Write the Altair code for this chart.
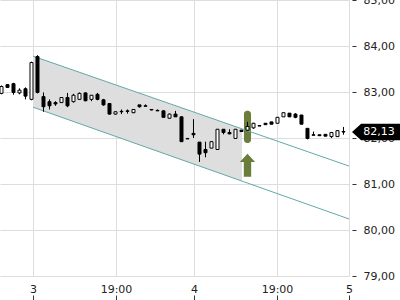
import altair as alt
import pandas as pd

# ---- candle data (hourly candles, index 0..57) ----
opens = [82.97, 83.16, 83.18, 82.98, 83.07, 82.84, 83.77, 82.90, 82.79, 82.77,
         82.77, 82.88, 82.79, 82.84, 82.98, 82.84, 82.95, 82.83, 82.75, 82.52,
         82.58, 82.59, 82.55, 82.72, 82.70, 82.62, 82.60, 82.59, 82.43, 82.52,
         82.46, 81.99, 82.10, 81.91, 81.75, 81.78, 81.75, 82.19, 82.12, 81.99,
         82.17, 82.17, 82.22, 82.27, 82.32, 82.35, 82.32, 82.46, 82.54, 82.52,
         82.50, 82.21, 82.07, 82.07, 82.08, 82.03, 82.03, 82.14]
highs = [83.14, 83.17, 83.20, 83.08, 83.10, 83.66, 83.80, 82.99, 82.84, 82.80,
         82.89, 82.98, 82.96, 82.99, 82.99, 82.93, 82.98, 82.85, 82.76, 82.58,
         82.62, 82.62, 82.63, 82.72, 82.73, 82.62, 82.62, 82.60, 82.53, 82.59,
         82.47, 81.99, 82.41, 81.91, 81.92, 81.93, 82.19, 82.19, 82.19, 82.19,
         82.17, 82.35, 82.33, 82.28, 82.32, 82.35, 82.45, 82.55, 82.54, 82.54,
         82.50, 82.21, 82.14, 82.07, 82.08, 82.13, 82.16, 82.24]
lows = [82.95, 83.09, 82.94, 82.95, 82.84, 82.82, 82.97, 82.57, 82.62, 82.70,
        82.76, 82.67, 82.77, 82.83, 82.80, 82.80, 82.82, 82.70, 82.51, 82.51,
        82.52, 82.53, 82.54, 82.66, 82.69, 82.60, 82.59, 82.45, 82.42, 82.46,
        81.92, 81.98, 82.00, 81.48, 81.58, 81.78, 81.75, 82.08, 82.08, 81.99,
        82.14, 82.16, 82.20, 82.26, 82.29, 82.30, 82.32, 82.46, 82.46, 82.43,
        82.30, 81.97, 82.06, 82.05, 82.04, 82.00, 82.03, 82.07]
closes = [83.12, 83.10, 82.99, 83.04, 82.91, 83.64, 82.99, 82.68, 82.70, 82.74,
          82.88, 82.70, 82.93, 82.97, 82.81, 82.93, 82.84, 82.72, 82.52, 82.57,
          82.57, 82.58, 82.62, 82.68, 82.69, 82.61, 82.59, 82.45, 82.52, 82.46,
          81.92, 81.98, 82.07, 81.65, 81.68, 81.92, 82.19, 82.12, 82.09, 82.19,
          82.14, 82.25, 82.32, 82.26, 82.29, 82.30, 82.45, 82.55, 82.46, 82.45,
          82.30, 81.99, 82.06, 82.05, 82.04, 82.12, 82.16, 82.13]

# ---- x-axis ticks ----
tick_positions = [5.25, 19.08, 32.08, 45.92, 57.92]
tick_labels = ["3", "19:00", "4", "19:00", "5"]
x_domain = [-0.25, 57.92]

# ---- y-axis ----
y_ticks = [79, 80, 81, 82, 83, 84, 85]
y_domain = [79, 85]

# ---- trend channel ----
chan_t = [5.25, 57.92]
chan_upper = [83.78, 81.39]
chan_lower = [82.67, 80.24]
shade_t = [5.25, 40.08]
shade_upper = [83.78, 82.20]
shade_lower = [82.67, 81.06]

# ---- signal highlight ----
signal_t = [41]
signal_top = [82.59]
signal_bottom = [81.89]
arrow_y = [81.41]

last_price = [closes[-1]]
last_label = ["82,13"]

candles = pd.DataFrame({
    "t": list(range(len(opens))),
    "open": opens, "high": highs, "low": lows, "close": closes,
})
candles["dir"] = ["up" if c > o else "down" for o, c in zip(opens, closes)]

chan_df = pd.DataFrame({"t": chan_t, "upper": chan_upper, "lower": chan_lower})
shade_df = pd.DataFrame({"t": shade_t, "upper": shade_upper, "lower": shade_lower})
sig_df = pd.DataFrame({"t": signal_t, "top": signal_top, "bottom": signal_bottom, "ay": arrow_y})
last_df = pd.DataFrame({"p": last_price, "lab": last_label})

FONT = "DejaVu Sans"

# label expression from tick lists
expr = "''"
for pos, lab in reversed(list(zip(tick_positions, tick_labels))):
    expr = f"abs(datum.value - {pos}) < 0.5 ? '{lab}' : {expr}"

x_scale = alt.Scale(domain=x_domain, nice=False, zero=False, padding=0)
y_scale = alt.Scale(domain=y_domain, nice=False, zero=False, padding=0)

x_axis = alt.Axis(values=tick_positions, labelExpr=expr, title=None, grid=True,
                  gridColor="#dddddd", domain=False, tickColor="#333333",
                  tickSize=5, offset=19, labelPadding=-17, labelFlush=False,
                  labelOverlap=False, labelFont=FONT, labelFontSize=11,
                  labelColor="#222222")
y_axis = alt.Axis(values=y_ticks, orient="right",
                  labelExpr="replace(format(datum.value, '.2f'), '.', ',')",
                  title=None, grid=True, gridColor="#dddddd", domain=False,
                  tickColor="#333333", tickSize=4, offset=3, labelPadding=7,
                  labelFont=FONT, labelFontSize=11, labelColor="#222222",
                  labelFlush=False, labelOverlap=False)

X = alt.X("t:Q", scale=x_scale, axis=x_axis)

shade = alt.Chart(shade_df).mark_area(color="#dedede", opacity=1).encode(
    x=X,
    y=alt.Y("upper:Q", scale=y_scale, axis=y_axis),
    y2="lower:Q",
)

highlight = alt.Chart(sig_df).mark_bar(width=7, color="#6b7d3a", cornerRadius=3).encode(
    x=alt.X("t:Q", scale=x_scale),
    y=alt.Y("top:Q", scale=y_scale),
    y2="bottom:Q",
)

upper_line = alt.Chart(chan_df).mark_line(color="#63a9ab", strokeWidth=1).encode(
    x=alt.X("t:Q", scale=x_scale), y=alt.Y("upper:Q", scale=y_scale))
lower_line = alt.Chart(chan_df).mark_line(color="#63a9ab", strokeWidth=1).encode(
    x=alt.X("t:Q", scale=x_scale), y=alt.Y("lower:Q", scale=y_scale))

wicks = alt.Chart(candles).mark_rule(color="black", strokeWidth=1).encode(
    x=alt.X("t:Q", scale=x_scale),
    y=alt.Y("low:Q", scale=y_scale),
    y2="high:Q",
)
bodies = alt.Chart(candles).mark_bar(width=3, stroke="black", strokeWidth=1).encode(
    x=alt.X("t:Q", scale=x_scale),
    y=alt.Y("open:Q", scale=y_scale),
    y2="close:Q",
    fill=alt.Fill("dir:N", scale=alt.Scale(domain=["up", "down"], range=["white", "black"]),
                  legend=None),
)

arrow_path = "M0,-1 L0.66,-0.28 L0.32,-0.28 L0.32,1 L-0.32,1 L-0.32,-0.28 L-0.66,-0.28 Z"
arrow = alt.Chart(sig_df).mark_point(shape=arrow_path, size=529, filled=True,
                                     color="#6b7d3a", opacity=1).encode(
    x=alt.X("t:Q", scale=x_scale),
    y=alt.Y("ay:Q", scale=y_scale),
)

label_path = "M-1,0 L-0.62,-0.34 L1,-0.34 L1,0.34 L-0.62,0.34 Z"
label_box = alt.Chart(last_df).mark_point(shape=label_path, size=2304, filled=True,
                                          color="black", opacity=1).encode(
    x=alt.value(376),
    y=alt.Y("p:Q", scale=y_scale),
)
label_text = alt.Chart(last_df).mark_text(color="white", font=FONT, fontSize=11,
                                          align="center", baseline="middle").encode(
    x=alt.value(379),
    y=alt.Y("p:Q", scale=y_scale),
    text="lab:N",
)

chart = alt.layer(shade, highlight, upper_line, lower_line, wicks, bodies, arrow,
                  label_box, label_text).properties(
    width=349, height=276,
    autosize=alt.AutoSizeParams(type="none"),
    padding={"left": 0, "top": 0, "right": 51, "bottom": 24},
    background="white",
).configure_view(strokeWidth=0)

chart.save("out.html", embed_options={"renderer": "svg", "actions": False})
